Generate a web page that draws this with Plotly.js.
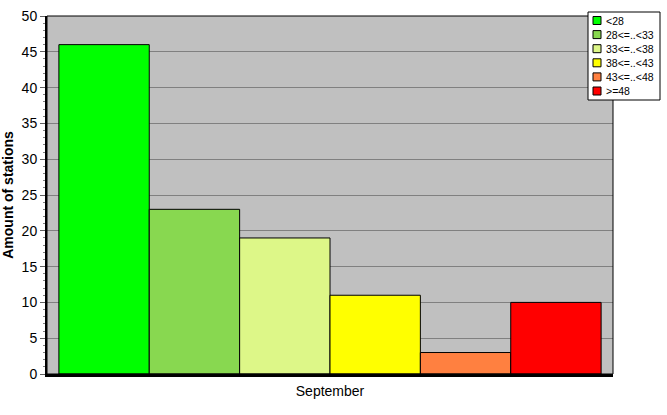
<!DOCTYPE html>
<html><head><meta charset="utf-8">
<script src="https://cdn.plot.ly/plotly-3.0.1.min.js"></script>
<style>html,body{margin:0;padding:0;background:#fff}</style>
</head><body>
<div id="chart" style="width:667px;height:415px"></div>
<script>
const categories = ["September"];
const seriesNames = ["<28", "28<=..<33", "33<=..<38", "38<=..<43", "43<=..<48", ">=48"];
const seriesValues = [[46], [23], [19], [11], [3], [10]];
const seriesColors = ["#00FF00", "#88D850", "#DDF788", "#FFFF00", "#FF8040", "#FF0000"];
const yTicks = [0, 5, 10, 15, 20, 25, 30, 35, 40, 45, 50];

const W = 667, H = 415, L = 47, R = 54, T = 16, B = 41;
const pw = W - L - R, ph = H - T - B;
const px = x => (x - L) / pw;
const py = y => (H - B - y) / ph;

const traces = seriesNames.map((n, i) => ({
  type: "bar", name: n, x: categories, y: seriesValues[i], showlegend: false,
  marker: {color: seriesColors[i], line: {color: "#000", width: 1}}
}));

// legend box (drawn with shapes + text, entries from the arrays)
const shapes = [{type: "rect", xref: "paper", yref: "paper", x0: 0, x1: 1, y0: 0, y1: 1,
    line: {color: "#000", width: 1}, fillcolor: "rgba(0,0,0,0)", layer: "above"},
  {type: "rect", xref: "paper", yref: "paper", x0: px(588), x1: px(660), y0: py(12), y1: py(100),
    line: {color: "#000", width: 1}, fillcolor: "#fff", layer: "above"}];
const annotations = [];
seriesNames.forEach((n, i) => {
  const cy = 20.5 + i * 14.1;
  shapes.push({type: "rect", xref: "paper", yref: "paper", x0: px(593), x1: px(601),
    y0: py(cy + 4), y1: py(cy - 4), line: {color: "#000", width: 1}, fillcolor: seriesColors[i], layer: "above"});
  annotations.push({xref: "paper", yref: "paper", x: px(604), y: py(cy), xanchor: "left", yanchor: "middle",
    text: n, showarrow: false, font: {size: 10.5, color: "#000"}});
});

const layout = {
  width: W, height: H,
  margin: {l: L, r: R, t: T, b: B, autoexpand: false},
  paper_bgcolor: "#fff", plot_bgcolor: "#C0C0C0",
  barmode: "group", bargap: 0.042, bargroupgap: 0,
  font: {family: "Liberation Sans, Arial, sans-serif", size: 12, color: "#000"},
  xaxis: {showline: true, linecolor: "#000", linewidth: 3, ticks: "", showgrid: false,
    tickfont: {size: 14}, ticklabelstandoff: 2},
  yaxis: {range: [0, 50], tickvals: yTicks, ticks: "outside", ticklen: 5, tickcolor: "#606060",
    showline: true, linecolor: "#000", linewidth: 2, showgrid: true, gridcolor: "#808080", gridwidth: 1,
    zeroline: false, tickfont: {size: 14},
    minor: {dtick: 1, ticks: "outside", ticklen: 2, tickcolor: "#808080", showgrid: false},
    title: {text: "<b>Amount of stations</b>", font: {size: 14}, standoff: 6}},
  shapes: shapes, annotations: annotations,
  showlegend: false
};

Plotly.newPlot("chart", traces, layout, {displayModeBar: false, staticPlot: true});
</script>
</body></html>
